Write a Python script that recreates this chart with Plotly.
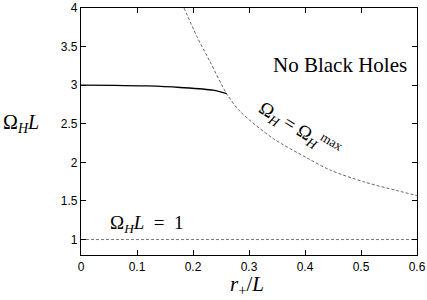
import plotly.graph_objects as go

# data
omega_max_x = [0.184, 0.207, 0.230, 0.260, 0.284, 0.343, 0.403, 0.445, 0.504, 0.564, 0.600]
omega_max_y = [4.00, 3.63, 3.31, 2.89, 2.66, 2.31, 2.06, 1.90, 1.75, 1.635, 1.57]

branch_x = [0.0, 0.06, 0.118, 0.177, 0.236, 0.260]
branch_y = [3.0, 2.998, 2.99, 2.97, 2.935, 2.89]

unit_x = [0.0, 0.6]
unit_y = [1.0, 1.0]

x_ticks = [0, 0.1, 0.2, 0.3, 0.4, 0.5, 0.6]
x_tick_labels = ["0", "0.1", "0.2", "0.3", "0.4", "0.5", "0.6"]
y_ticks = [1, 1.5, 2, 2.5, 3, 3.5, 4]
y_tick_labels = ["1", "1.5", "2", "2.5", "3", "3.5", "4"]

fig = go.Figure()
fig.add_trace(go.Scatter(x=unit_x, y=unit_y, mode="lines",
                         line=dict(color="#777777", width=1, dash="3px,2px"),
                         hoverinfo="skip"))
fig.add_trace(go.Scatter(x=omega_max_x, y=omega_max_y, mode="lines",
                         line=dict(color="#666666", width=1, dash="3px,2px", shape="spline", smoothing=0.8),
                         hoverinfo="skip"))
fig.add_trace(go.Scatter(x=branch_x, y=branch_y, mode="lines",
                         line=dict(color="black", width=1.3, shape="spline", smoothing=0.8),
                         hoverinfo="skip"))

serif = "Liberation Serif, Times New Roman, serif"
fig.add_annotation(x=0.4625, y=3.26, xref="x", yref="y", text="No Black Holes",
                   showarrow=False, font=dict(family=serif, size=21, color="black"))
fig.add_annotation(x=0.391, y=2.42, xref="x", yref="y",
                   text="Ω<sub><i>H</i></sub>&nbsp;=&nbsp;Ω<sub><i>H</i></sub><sup>max</sup>",
                   showarrow=False, textangle=31, font=dict(family=serif, size=19, color="black"))
fig.add_annotation(x=0.117, y=1.2, xref="x", yref="y",
                   text="Ω<sub><i>H</i></sub><i>L</i>&nbsp;&nbsp;=&nbsp;&nbsp;1",
                   showarrow=False, font=dict(family=serif, size=19, color="black"))
fig.add_annotation(x=-0.238, y=2.5, xref="paper", yref="y", xanchor="left",
                   text="Ω<sub><i>H</i></sub><i>L</i>",
                   showarrow=False, font=dict(family=serif, size=20, color="black"))
fig.add_annotation(x=0.296, y=-0.122, xref="x", yref="paper",
                   text="<i>r</i><sub>+</sub>/<i>L</i>", yanchor="middle",
                   showarrow=False, font=dict(family=serif, size=21, color="black"))

axis_common = dict(showgrid=False, zeroline=False, showline=True, linecolor="black",
                   linewidth=1.3, mirror="ticks", ticks="inside", ticklen=5,
                   tickcolor="black", tickwidth=1, automargin=False,
                   tickfont=dict(family="Liberation Sans, Arial, sans-serif", size=12, color="black"))
fig.update_xaxes(range=[0, 0.6], tickvals=x_ticks, ticktext=x_tick_labels, **axis_common)
fig.update_yaxes(range=[0.8, 4.0], tickvals=y_ticks, ticktext=y_tick_labels, **axis_common)

fig.update_layout(width=427, height=300, showlegend=False,
                  plot_bgcolor="white", paper_bgcolor="white",
                  margin=dict(l=81, r=10, t=8, b=45, autoexpand=False))
fig.write_html("out.html", config={"displayModeBar": False},
               post_script="document.body.style.margin='0px';document.body.style.overflow='hidden';")
